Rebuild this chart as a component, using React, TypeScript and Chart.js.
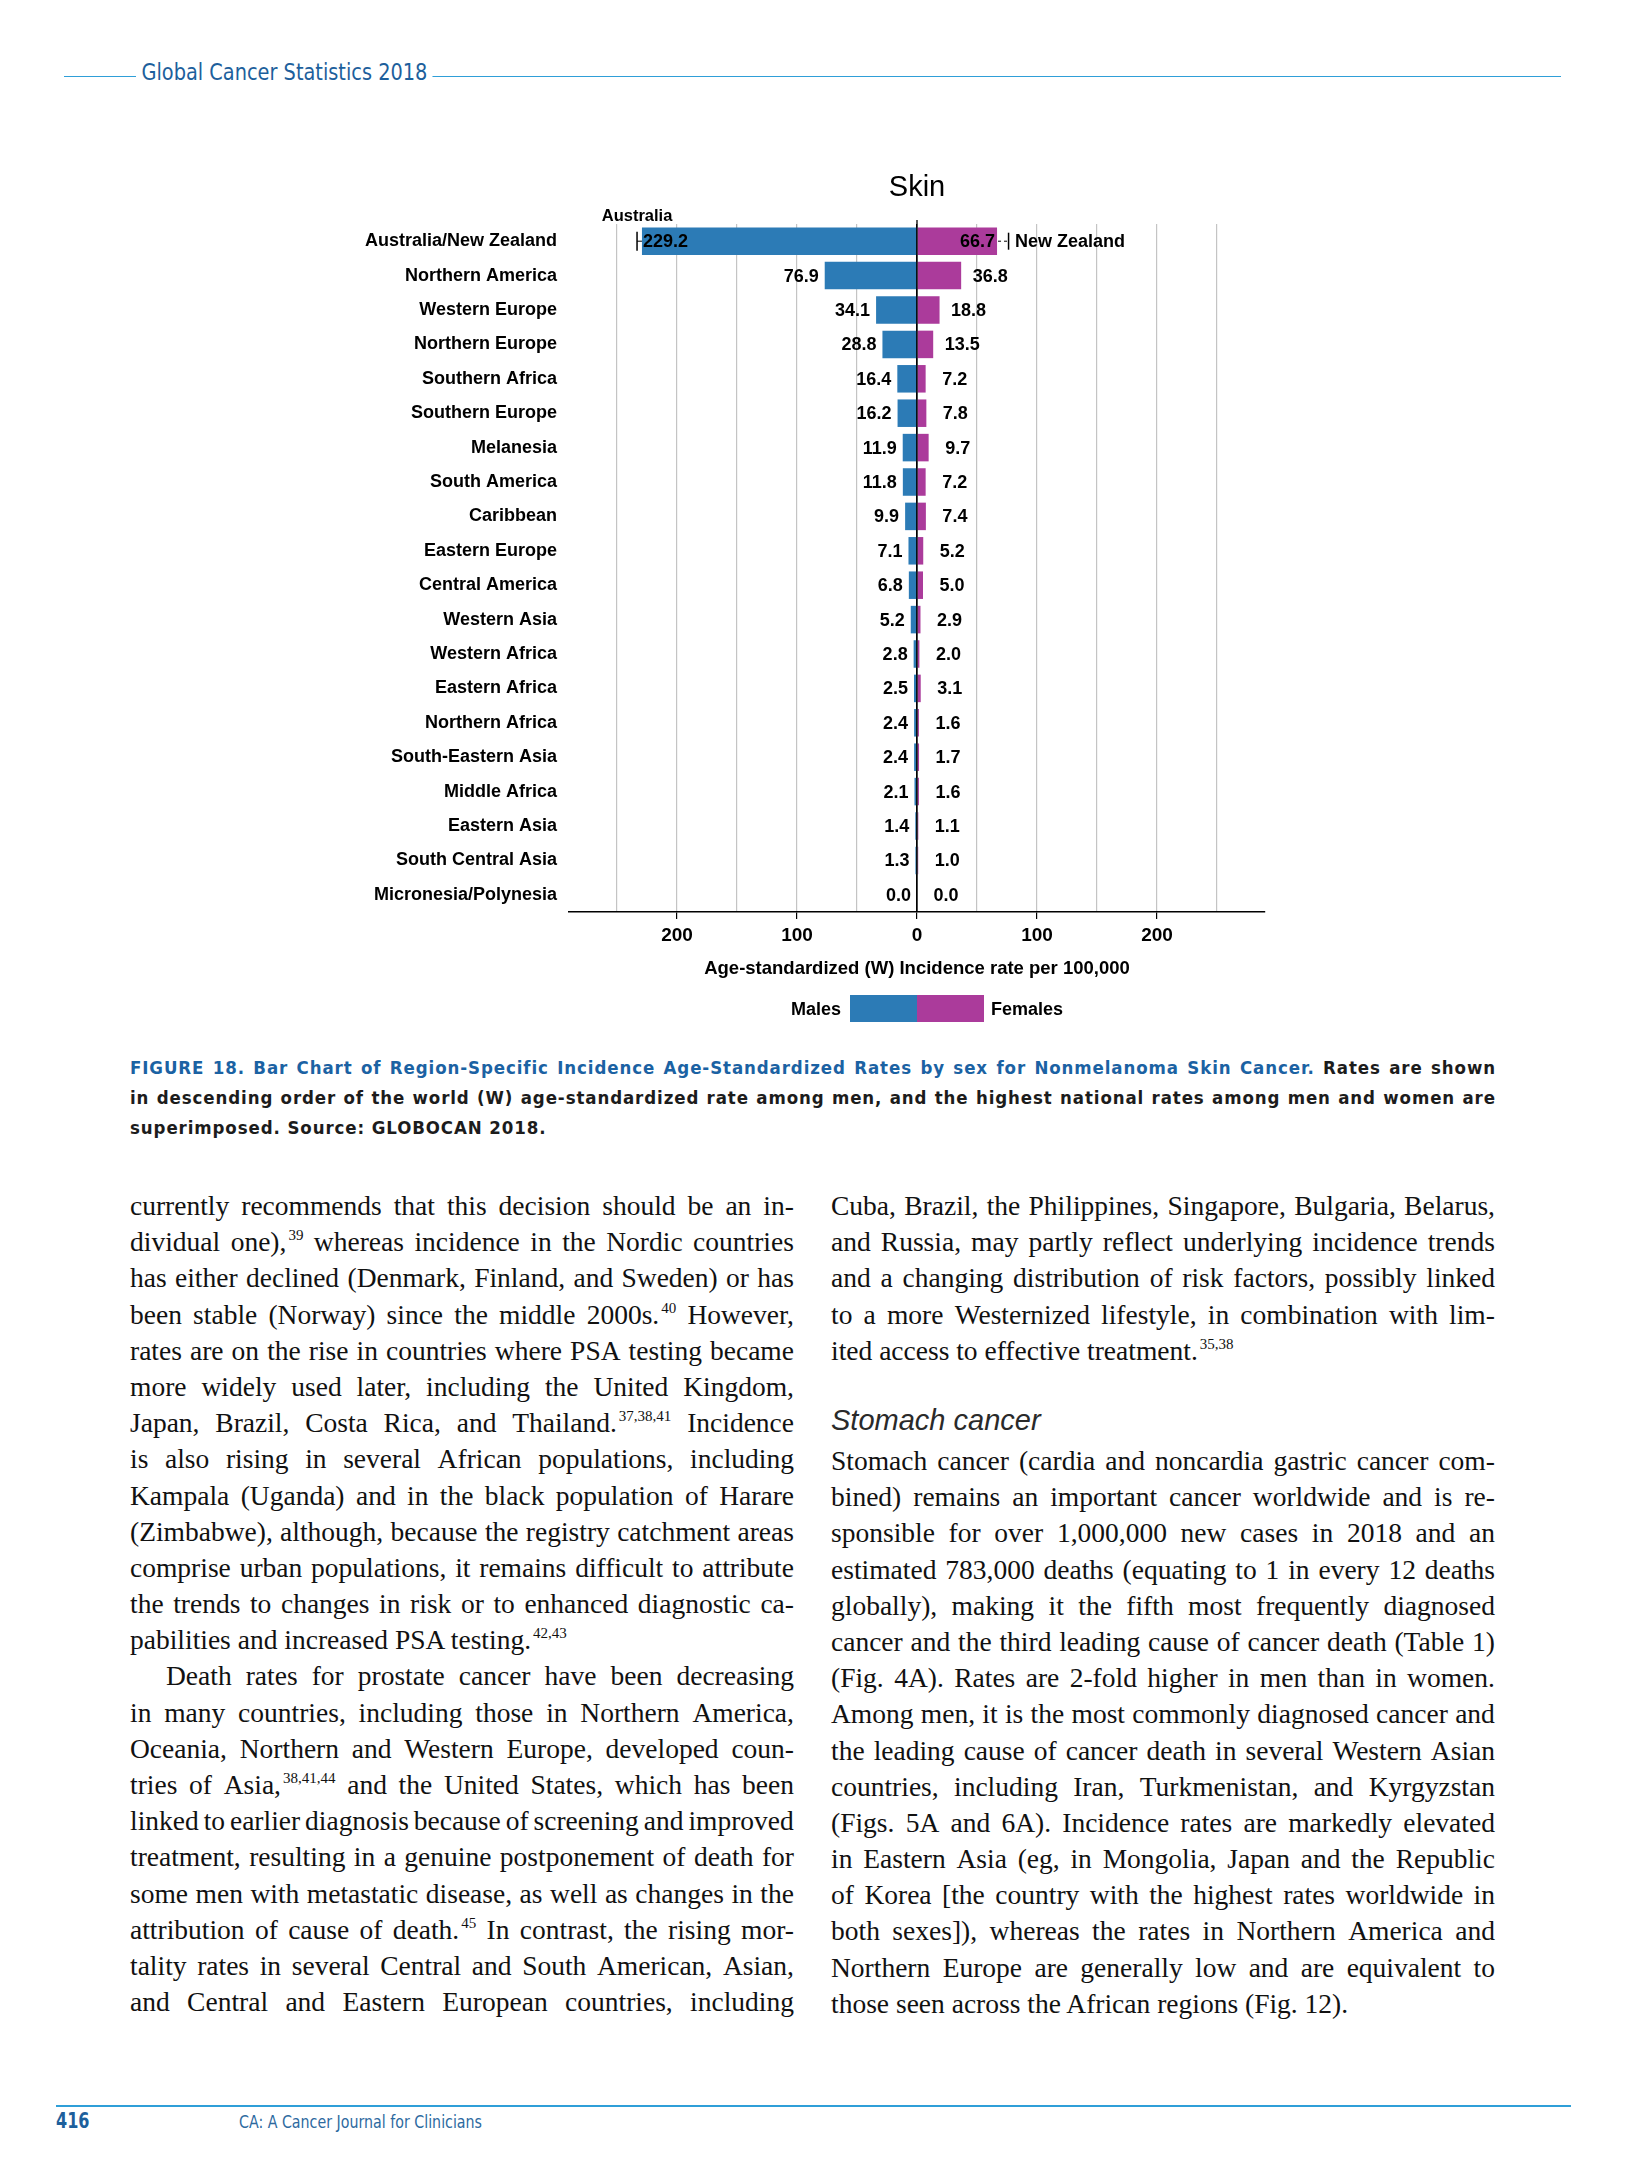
import React, { useEffect, useLayoutEffect, useRef } from "react";
import { Chart, registerables } from "chart.js";

Chart.register(...registerables);

// ---------------- DATA ----------------
const regions = [
  "Australia/New Zealand",
  "Northern America",
  "Western Europe",
  "Northern Europe",
  "Southern Africa",
  "Southern Europe",
  "Melanesia",
  "South America",
  "Caribbean",
  "Eastern Europe",
  "Central America",
  "Western Asia",
  "Western Africa",
  "Eastern Africa",
  "Northern Africa",
  "South-Eastern Asia",
  "Middle Africa",
  "Eastern Asia",
  "South Central Asia",
  "Micronesia/Polynesia",
];
const malesRate = [229.2, 76.9, 34.1, 28.8, 16.4, 16.2, 11.9, 11.8, 9.9, 7.1, 6.8, 5.2, 2.8, 2.5, 2.4, 2.4, 2.1, 1.4, 1.3, 0.0];
const femalesRate = [66.7, 36.8, 18.8, 13.5, 7.2, 7.8, 9.7, 7.2, 7.4, 5.2, 5.0, 2.9, 2.0, 3.1, 1.6, 1.7, 1.6, 1.1, 1.0, 0.0];

// highest national rates superimposed
const nationalNames = ["Australia", "New Zealand"];
const nationalRates = [233.3, 76.3];
const nationalSex = ["Males", "Females"];
const nationalRegion = ["Australia/New Zealand", "Australia/New Zealand"];

const xTickLabelValues = [-200, -100, 0, 100, 200];
const chartTitle = "Skin";
const xAxisTitle = "Age-standardized (W) Incidence rate per 100,000";
const legendLabels = ["Males", "Females"];

const headerText = "Global Cancer Statistics 2018";
const captionBlue = "FIGURE 18. Bar Chart of Region-Specific Incidence Age-Standardized Rates by sex for Nonmelanoma Skin Cancer.";
const captionLine1Rest = "Rates are shown";
const captionLine2 = "in descending order of the world (W) age-standardized rate among men, and the highest national rates among men and women are";
const captionLine3 = "superimposed. Source: GLOBOCAN 2018.";

const col1Lines = [
  { t: "currently recommends that this decision should be an in-" },
  { t: "dividual one),^39 whereas incidence in the Nordic countries" },
  { t: "has either declined (Denmark, Finland, and Sweden) or has" },
  { t: "been stable (Norway) since the middle 2000s.^40 However," },
  { t: "rates are on the rise in countries where PSA testing became" },
  { t: "more widely used later, including the United Kingdom," },
  { t: "Japan, Brazil, Costa Rica, and Thailand.^37,38,41 Incidence" },
  { t: "is also rising in several African populations, including" },
  { t: "Kampala (Uganda) and in the black population of Harare" },
  { t: "(Zimbabwe), although, because the registry catchment areas" },
  { t: "comprise urban populations, it remains difficult to attribute" },
  { t: "the trends to changes in risk or to enhanced diagnostic ca-" },
  { t: "pabilities and increased PSA testing.^42,43", last: true },
  { t: "Death rates for prostate cancer have been decreasing", indent: true },
  { t: "in many countries, including those in Northern America," },
  { t: "Oceania, Northern and Western Europe, developed coun-" },
  { t: "tries of Asia,^38,41,44 and the United States, which has been" },
  { t: "linked to earlier diagnosis because of screening and improved" },
  { t: "treatment, resulting in a genuine postponement of death for" },
  { t: "some men with metastatic disease, as well as changes in the" },
  { t: "attribution of cause of death.^45 In contrast, the rising mor-" },
  { t: "tality rates in several Central and South American, Asian," },
  { t: "and Central and Eastern European countries, including" },
];
const col2TopLines = [
  { t: "Cuba, Brazil, the Philippines, Singapore, Bulgaria, Belarus," },
  { t: "and Russia, may partly reflect underlying incidence trends" },
  { t: "and a changing distribution of risk factors, possibly linked" },
  { t: "to a more Westernized lifestyle, in combination with lim-" },
  { t: "ited access to effective treatment.^35,38", last: true },
];
const col2Heading = "Stomach cancer";
const col2BottomLines = [
  { t: "Stomach cancer (cardia and noncardia gastric cancer com-" },
  { t: "bined) remains an important cancer worldwide and is re-" },
  { t: "sponsible for over 1,000,000 new cases in 2018 and an" },
  { t: "estimated 783,000 deaths (equating to 1 in every 12 deaths" },
  { t: "globally), making it the fifth most frequently diagnosed" },
  { t: "cancer and the third leading cause of cancer death (Table 1)" },
  { t: "(Fig. 4A). Rates are 2-fold higher in men than in women." },
  { t: "Among men, it is the most commonly diagnosed cancer and" },
  { t: "the leading cause of cancer death in several Western Asian" },
  { t: "countries, including Iran, Turkmenistan, and Kyrgyzstan" },
  { t: "(Figs. 5A and 6A). Incidence rates are markedly elevated" },
  { t: "in Eastern Asia (eg, in Mongolia, Japan and the Republic" },
  { t: "of Korea [the country with the highest rates worldwide in" },
  { t: "both sexes]), whereas the rates in Northern America and" },
  { t: "Northern Europe are generally low and are equivalent to" },
  { t: "those seen across the African regions (Fig. 12).", last: true },
];
const footerPage = "416";
const footerJournal = "CA: A Cancer Journal for Clinicians";

// ---------------- STYLE ----------------
const SANS = "'Liberation Sans', Arial, Helvetica, sans-serif";
const SERIF = "'Liberation Serif', 'Times New Roman', serif";
const COND = "'Liberation Sans Narrow', 'Arial Narrow', 'DejaVu Sans Condensed', 'Liberation Sans', sans-serif";
const BLUE_BAR = "#2c7bb6";
const MAGENTA_BAR = "#ab3b9b";
const GRID = "#c4c4c4";
const HEAD_BLUE = "#1d5f9c";
const LINE_BLUE = "#2f9fd8";
const CAPTION_BLUE = "#1b62a3";
const TEXT = "#111";

// ---------------- CHART ----------------
const overlayPlugin = {
  id: "skinOverlay",
  afterDatasetsDraw(chart: any) {
    const { ctx, scales, chartArea } = chart;
    const xs = scales.x;
    const zero = xs.getPixelForValue(0);
    const mMeta = chart.getDatasetMeta(0);
    const fMeta = chart.getDatasetMeta(1);
    ctx.save();
    ctx.strokeStyle = "#000";
    ctx.lineWidth = 1.3;
    ctx.beginPath();
    ctx.moveTo(zero, chartArea.top - 4);
    ctx.lineTo(zero, chartArea.bottom);
    ctx.stroke();

    ctx.fillStyle = "#000";
    ctx.textBaseline = "middle";
    for (let i = 0; i < regions.length; i++) {
      const mb = mMeta.data[i];
      const fb = fMeta.data[i];
      const y = mb.y;
      const mHi = nationalSex.findIndex((s, k) => s === "Males" && nationalRegion[k] === regions[i]);
      const fHi = nationalSex.findIndex((s, k) => s === "Females" && nationalRegion[k] === regions[i]);
      ctx.font = `bold 18px ${SANS}`;
      const mTxt = malesRate[i].toFixed(1);
      const fTxt = femalesRate[i].toFixed(1);
      if (mHi >= 0) {
        ctx.textAlign = "left";
        ctx.fillText(mTxt, mb.x + 1, y + 1);
      } else {
        ctx.textAlign = "right";
        ctx.fillText(mTxt, mb.x - 6, y + 1);
      }
      if (fHi >= 0) {
        ctx.textAlign = "right";
        ctx.fillText(fTxt, fb.x - 2, y + 1);
      } else {
        ctx.textAlign = "center";
        ctx.fillText(fTxt, fb.x + 29, y + 1);
      }
      if (mHi >= 0) {
        const px = xs.getPixelForValue(-nationalRates[mHi]);
        ctx.lineWidth = 1.5;
        ctx.beginPath();
        ctx.moveTo(px, y - 9.5);
        ctx.lineTo(px, y + 9.5);
        ctx.stroke();
        ctx.lineWidth = 1;
        ctx.beginPath();
        ctx.moveTo(px, y);
        ctx.lineTo(mb.x, y);
        ctx.stroke();
        ctx.font = `bold 16.5px ${SANS}`;
        ctx.textAlign = "center";
        ctx.fillText(nationalNames[mHi], px, y - 25);
      }
      if (fHi >= 0) {
        const px = xs.getPixelForValue(nationalRates[fHi]);
        ctx.lineWidth = 1.5;
        ctx.beginPath();
        ctx.moveTo(px, y - 8.5);
        ctx.lineTo(px, y + 8.5);
        ctx.stroke();
        ctx.lineWidth = 1;
        ctx.setLineDash([3, 3]);
        ctx.beginPath();
        ctx.moveTo(fb.x + 1, y);
        ctx.lineTo(px - 1, y);
        ctx.stroke();
        ctx.setLineDash([]);
        ctx.font = `bold 18px ${SANS}`;
        ctx.textAlign = "left";
        ctx.fillText(nationalNames[fHi], px + 6.5, y + 1);
      }
    }
    ctx.restore();
  },
  afterDraw(chart: any) {
    const { ctx, scales } = chart;
    const zero = scales.x.getPixelForValue(0);
    ctx.save();
    ctx.fillStyle = "#000";
    ctx.textBaseline = "middle";
    ctx.textAlign = "center";
    ctx.font = `29px ${SANS}`;
    ctx.fillText(chartTitle, zero, 28);
    ctx.font = `bold 18.5px ${SANS}`;
    ctx.fillText(xAxisTitle, zero, 809);
    // legend
    ctx.fillStyle = BLUE_BAR;
    ctx.fillRect(zero - 67, 835, 67, 27);
    ctx.fillStyle = MAGENTA_BAR;
    ctx.fillRect(zero, 835, 67, 27);
    ctx.fillStyle = "#000";
    ctx.font = `bold 18px ${SANS}`;
    ctx.textAlign = "right";
    ctx.fillText(legendLabels[0], zero - 76, 850);
    ctx.textAlign = "left";
    ctx.fillText(legendLabels[1], zero + 74, 850);
    ctx.restore();
  },
};

function SkinChart() {
  const ref = useRef<HTMLCanvasElement | null>(null);
  useEffect(() => {
    if (!ref.current) return;
    const chart = new Chart(ref.current, {
      type: "bar",
      data: {
        labels: regions,
        datasets: [
          {
            label: legendLabels[0],
            data: malesRate.map((v) => -v),
            backgroundColor: BLUE_BAR,
            barPercentage: 0.8,
            categoryPercentage: 1,
          },
          {
            label: legendLabels[1],
            data: femalesRate,
            backgroundColor: MAGENTA_BAR,
            barPercentage: 0.8,
            categoryPercentage: 1,
          },
        ],
      },
      options: {
        animation: false,
        responsive: false,
        devicePixelRatio: 1,
        indexAxis: "y",
        layout: { padding: { top: 64, right: 75, left: 0, bottom: 0 } },
        plugins: {
          legend: { display: false },
          tooltip: { enabled: false },
          title: { display: false },
        },
        scales: {
          x: {
            stacked: true,
            min: -290,
            max: 290,
            ticks: {
              stepSize: 50,
              includeBounds: false,
              autoSkip: false,
              maxRotation: 0,
              padding: 5,
              color: "#000",
              font: { family: SANS, size: 19, weight: "bold" },
              callback: (v: any) => (xTickLabelValues.includes(Number(v)) ? String(Math.abs(Number(v))) : ""),
            },
            grid: {
              color: (c: any) => (c.tick && c.tick.value === 0 ? "#000" : GRID),
              lineWidth: 1.2,
              tickLength: 7,
              tickColor: (c: any) => (c.tick && c.tick.value % 100 === 0 ? "#000" : "rgba(0,0,0,0)"),
            },
            border: { display: true, color: "#000", width: 1.5 },
            afterFit: (s: any) => {
              s.height = 128;
            },
          },
          y: {
            stacked: true,
            grid: { display: false, drawTicks: false },
            border: { display: false },
            ticks: {
              autoSkip: false,
              padding: 12,
              color: "#000",
              font: { family: SANS, size: 18, weight: "bold" },
            },
            afterFit: (s: any) => {
              s.width = 329;
            },
          },
        },
      } as any,
      plugins: [overlayPlugin],
    });
    return () => chart.destroy();
  }, []);
  return (
    <canvas
      ref={ref}
      width={1100}
      height={880}
      style={{ position: "absolute", left: 240, top: 160, width: 1100, height: 880, display: "block" }}
    />
  );
}

// ---------------- TEXT ----------------
function Word({ w, color }: { w: string; color?: string }) {
  const idx = w.indexOf("^");
  if (idx < 0) return <span style={{ color }}>{w}</span>;
  return (
    <span style={{ color }}>
      {w.slice(0, idx)}
      <span style={{ fontSize: 15, position: "relative", top: -11, marginLeft: 2, letterSpacing: 0 }}>{w.slice(idx + 1)}</span>
    </span>
  );
}

// One printed line; squeezes itself horizontally if its words do not fit.
function TextLine({
  words,
  justify,
  indent,
  lineHeight,
  minGap,
}: {
  words: { w: string; c?: string }[];
  justify: boolean;
  indent?: number;
  lineHeight: number;
  minGap: number;
}) {
  const ref = useRef<HTMLDivElement | null>(null);
  useLayoutEffect(() => {
    const el = ref.current;
    if (!el) return;
    el.style.transform = "";
    const need = el.scrollWidth;
    const have = el.clientWidth;
    if (need > have + 0.5) {
      el.style.transformOrigin = "left center";
      el.style.transform = `scaleX(${have / need})`;
    }
  });
  const base: React.CSSProperties = {
    height: lineHeight,
    lineHeight: lineHeight + "px",
    paddingLeft: indent || 0,
    whiteSpace: "nowrap",
    boxSizing: "border-box",
  };
  if (justify) {
    return (
      <div
        ref={ref}
        style={{ ...base, display: "flex", justifyContent: "space-between", alignItems: "baseline", columnGap: minGap }}
      >
        {words.map((x, i) => (
          <Word key={i} w={x.w} color={x.c} />
        ))}
      </div>
    );
  }
  return (
    <div ref={ref} style={{ ...base, whiteSpace: "pre" }}>
      {words.map((x, i) => (
        <React.Fragment key={i}>
          {i > 0 ? " " : ""}
          <Word w={x.w} color={x.c} />
        </React.Fragment>
      ))}
    </div>
  );
}

function Column({ lines, left, top }: { lines: { t: string; last?: boolean; indent?: boolean }[]; left: number; top: number }) {
  return (
    <div
      style={{
        position: "absolute",
        left,
        top,
        width: 664,
        fontFamily: SERIF,
        fontSize: 27.5,
        color: TEXT,
      }}
    >
      {lines.map((l, i) => (
        <TextLine
          key={i}
          words={l.t.split(" ").map((w) => ({ w }))}
          justify={!l.last}
          indent={l.indent ? 36 : 0}
          lineHeight={36.2}
          minGap={5}
        />
      ))}
    </div>
  );
}

export default function App() {
  const cap1 = [
    ...captionBlue.split(" ").map((w) => ({ w, c: CAPTION_BLUE })),
    ...captionLine1Rest.split(" ").map((w) => ({ w, c: "#1c1c1c" })),
  ];
  return (
    <div style={{ position: "absolute", left: 0, top: 0, width: 1626, height: 2175, background: "#fff", overflow: "hidden" }}>
      {/* header */}
      <div style={{ position: "absolute", left: 64, top: 75.5, width: 1497, height: 1.6, background: LINE_BLUE }} />
      <div
        style={{
          position: "absolute",
          left: 136,
          top: 59,
          padding: "0 6px",
          background: "#fff",
          fontFamily: COND,
          fontStretch: "condensed",
          fontSize: 23.5,
          lineHeight: "26px",
          color: HEAD_BLUE,
          whiteSpace: "nowrap",
          transform: "scaleX(0.915)",
          transformOrigin: "left center",
        }}
      >
        {headerText}
      </div>

      <SkinChart />

      {/* caption */}
      <div
        style={{
          position: "absolute",
          left: 130,
          top: 1053,
          width: 1366,
          fontFamily: COND,
          fontStretch: "condensed",
          fontWeight: "bold",
          fontSize: 18.5,
          letterSpacing: "0.9px",
          color: "#1c1c1c",
        }}
      >
        <TextLine words={cap1} justify lineHeight={30} minGap={4} />
        <TextLine words={captionLine2.split(" ").map((w) => ({ w }))} justify lineHeight={30} minGap={4} />
        <TextLine words={captionLine3.split(" ").map((w) => ({ w }))} justify={false} lineHeight={30} minGap={4} />
      </div>

      <Column lines={col1Lines} left={130} top={1188} />
      <Column lines={col2TopLines} left={831} top={1188} />
      <div
        style={{
          position: "absolute",
          left: 831,
          top: 1404,
          fontFamily: SANS,
          fontStyle: "italic",
          fontSize: 29,
          lineHeight: "32px",
          color: "#2a2a2a",
          whiteSpace: "nowrap",
        }}
      >
        {col2Heading}
      </div>
      <Column lines={col2BottomLines} left={831} top={1443} />

      {/* footer */}
      <div style={{ position: "absolute", left: 56, top: 2105, width: 1515, height: 2, background: LINE_BLUE }} />
      <div
        style={{
          position: "absolute",
          left: 56,
          top: 2109,
          fontFamily: COND,
          fontStretch: "condensed",
          fontWeight: "bold",
          fontSize: 21,
          lineHeight: "24px",
          color: HEAD_BLUE,
          transform: "scaleX(0.85)",
          transformOrigin: "left center",
        }}
      >
        {footerPage}
      </div>
      <div
        style={{
          position: "absolute",
          left: 239,
          top: 2111,
          fontFamily: COND,
          fontStretch: "condensed",
          fontSize: 17,
          lineHeight: "22px",
          color: "#2d6a9f",
          whiteSpace: "nowrap",
          transform: "scaleX(0.93)",
          transformOrigin: "left center",
        }}
      >
        {footerJournal}
      </div>
    </div>
  );
}
